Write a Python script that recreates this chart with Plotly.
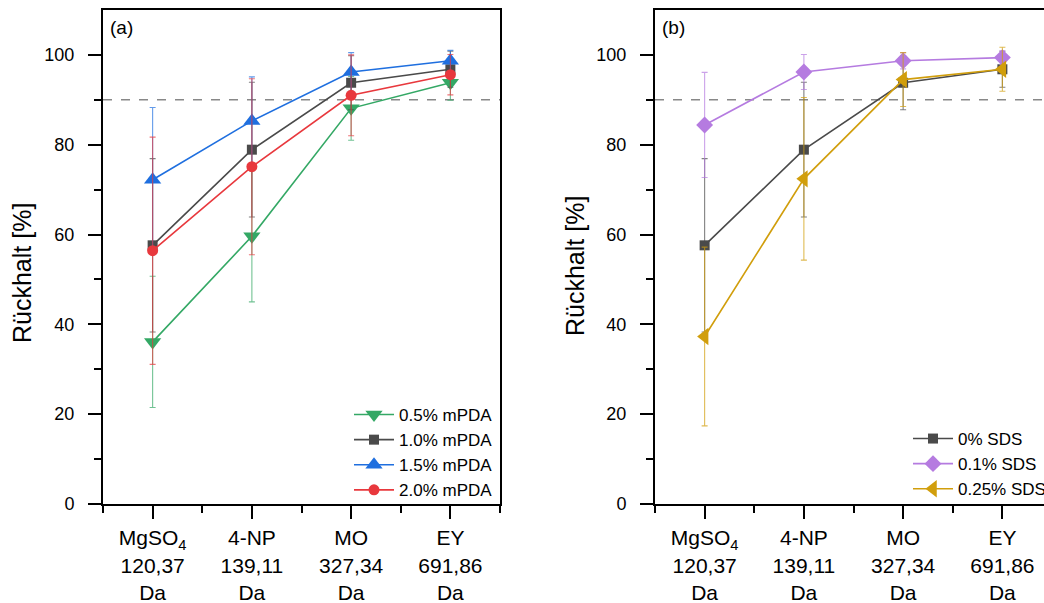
import plotly.graph_objects as go

# ---------------- data ----------------
substances = ["MgSO<sub>4</sub>", "4-NP", "MO", "EY"]
masses = ["120,37", "139,11", "327,34", "691,86"]
tick_labels = [f"{s}<br>{m}<br>Da" for s, m in zip(substances, masses)]
x_pos = list(range(len(substances)))

# panel (a): mPDA concentration
mpda_names = ["0.5% mPDA", "1.0% mPDA", "1.5% mPDA", "2.0% mPDA"]
mpda_05 = [36.1, 59.6, 88.1, 93.8]
mpda_05_err = [14.6, 14.6, 7.1, 3.9]
mpda_10 = [57.6, 78.9, 93.8, 96.8]
mpda_10_err = [19.3, 15.0, 6.0, 4.0]
mpda_15 = [72.2, 85.3, 96.2, 98.7]
mpda_15_err = [16.1, 9.8, 4.3, 2.3]
mpda_20 = [56.4, 75.1, 91.0, 95.6]
mpda_20_err = [25.3, 19.6, 9.0, 4.5]

# panel (b): SDS concentration
sds_names = ["0% SDS", "0.1% SDS", "0.25% SDS"]
sds_0 = [57.6, 78.9, 93.8, 96.8]
sds_0_err = [19.3, 15.0, 6.0, 4.0]
sds_01 = [84.4, 96.2, 98.7, 99.4]
sds_01_err = [11.7, 3.9, 1.8, 1.5]
sds_025 = [37.3, 72.4, 94.5, 96.8]
sds_025_err = [19.9, 18.1, 6.0, 4.9]

threshold = 90
y_title = "Rückhalt [%]"

# ---------------- styles ----------------
FONT = "Arial, Liberation Sans, sans-serif"
W, H = 1044, 603
GREEN, BLACK, BLUE, RED = "#34a865", "#4a4a4a", "#1f6fdf", "#e8383d"
PURPLE, GOLD = "#b57be0", "#d19e0c"


def rgba(hexc, a):
    h = hexc.lstrip("#")
    r, g, b = int(h[0:2], 16), int(h[2:4], 16), int(h[4:6], 16)
    return f"rgba({r},{g},{b},{a})"


fig = go.Figure()


def add(y, err, name, color, symbol, size, xa, ya, legend):
    fig.add_trace(go.Scatter(
        x=x_pos, y=y, name=name, mode="lines+markers",
        line=dict(color=color, width=1.6),
        marker=dict(symbol=symbol, size=size, color=color),
        error_y=dict(type="data", array=err, visible=True,
                     color=rgba(color, 0.7), thickness=1.1, width=3),
        xaxis=xa, yaxis=ya, legend=legend,
    ))


add(mpda_05, mpda_05_err, mpda_names[0], GREEN, "triangle-down", 15, "x", "y", "legend")
add(mpda_10, mpda_10_err, mpda_names[1], BLACK, "square", 10, "x", "y", "legend")
add(mpda_15, mpda_15_err, mpda_names[2], BLUE, "triangle-up", 15, "x", "y", "legend")
add(mpda_20, mpda_20_err, mpda_names[3], RED, "circle", 11, "x", "y", "legend")

add(sds_0, sds_0_err, sds_names[0], BLACK, "square", 10, "x2", "y2", "legend2")
add(sds_01, sds_01_err, sds_names[1], PURPLE, "diamond", 13, "x2", "y2", "legend2")
add(sds_025, sds_025_err, sds_names[2], GOLD, "triangle-left", 15, "x2", "y2", "legend2")

# ---------------- layout ----------------
ya_dom = [(H - 504) / H, (H - 10) / H]
xa_dom = [103 / W, 500 / W]
xb_dom = [655 / W, 1.0]
px_per_unit = (500 - 103) / 4.0
xb_max = -0.5 + (W - 655) / px_per_unit


def xaxis(dom, rng, anchor):
    return dict(
        domain=dom, range=rng, anchor=anchor,
        tickmode="array", tickvals=x_pos, ticktext=tick_labels,
        ticks="outside", ticklen=13, tickwidth=2, tickcolor="black",
        showline=True, linewidth=2, linecolor="black", mirror=True,
        showgrid=False, zeroline=False, ticklabelstandoff=1,
        tickfont=dict(family=FONT, size=21, color="black"),
        minor=dict(tickmode="array", tickvals=[i - 0.5 for i in range(len(x_pos) + 1)],
                   ticks="outside", ticklen=7, tickwidth=2, tickcolor="black",
                   showgrid=False),
        fixedrange=True,
    )


def yaxis(anchor, mirror):
    return dict(
        domain=ya_dom, range=[0, 110], anchor=anchor,
        tickmode="array", tickvals=[0, 20, 40, 60, 80, 100],
        ticks="outside", ticklen=13, tickwidth=2, tickcolor="black",
        showline=True, linewidth=2, linecolor="black", mirror=mirror,
        showgrid=False, zeroline=False, ticklabelstandoff=10,
        tickfont=dict(family=FONT, size=18, color="black"),
        minor=dict(tickmode="array", tickvals=[10, 30, 50, 70, 90],
                   ticks="outside", ticklen=7, tickwidth=2, tickcolor="black",
                   showgrid=False),
        fixedrange=True,
    )


legend_common = dict(
    bgcolor="rgba(0,0,0,0)", borderwidth=0,
    font=dict(family=FONT, size=17, color="black"),
    xanchor="left", yanchor="bottom", tracegroupgap=0, itemwidth=40,
)

title_font = dict(family=FONT, size=25, color="black")

fig.update_layout(
    width=W, height=H,
    margin=dict(l=0, r=0, t=0, b=0, autoexpand=False),
    paper_bgcolor="white", plot_bgcolor="white",
    showlegend=True,
    xaxis=xaxis(xa_dom, [-0.5, 3.5], "y"),
    yaxis=yaxis("x", True),
    xaxis2=xaxis(xb_dom, [-0.5, xb_max], "y2"),
    yaxis2=yaxis("x2", False),
    legend=dict(**legend_common, x=349 / W, y=(H - 508) / H),
    legend2=dict(**legend_common, x=908 / W, y=(H - 507) / H),
    shapes=[
        dict(type="line", xref="x domain", yref="y", x0=0, x1=1, y0=threshold, y1=threshold,
             line=dict(color="#888888", width=1.6, dash="dash"), layer="below"),
        dict(type="line", xref="x2 domain", yref="y2", x0=0, x1=1, y0=threshold, y1=threshold,
             line=dict(color="#888888", width=1.6, dash="dash"), layer="below"),
    ],
    annotations=[
        dict(text="(a)", xref="x domain", yref="y domain", x=0.012, y=0.989,
             xanchor="left", yanchor="top", showarrow=False,
             font=dict(family=FONT, size=19, color="black")),
        dict(text="(b)", xref="x2 domain", yref="y2 domain", x=0.012, y=0.989,
             xanchor="left", yanchor="top", showarrow=False,
             font=dict(family=FONT, size=19, color="black")),
        dict(text=y_title, xref="paper", yref="paper", x=22 / W, y=(H - 273) / H,
             xanchor="center", yanchor="middle", textangle=-90, showarrow=False,
             font=title_font),
        dict(text=y_title, xref="paper", yref="paper", x=575 / W, y=(H - 266) / H,
             xanchor="center", yanchor="middle", textangle=-90, showarrow=False,
             font=title_font),
    ],
)

fig.write_html("out.html", config={"displayModeBar": False},
               post_script="document.body.style.margin='0';")
